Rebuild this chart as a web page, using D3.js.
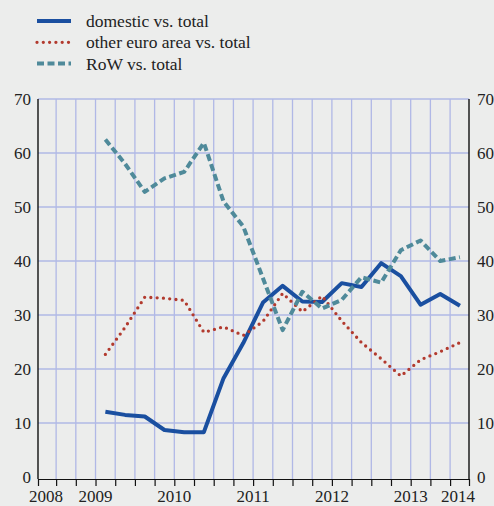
<!DOCTYPE html>
<html>
<head>
<meta charset="utf-8">
<script src="https://cdn.jsdelivr.net/npm/d3@7"></script>
<style>
  body { margin: 0; background: #ecedec; }
  svg { display: block; font-family: "Liberation Serif", "Times New Roman", serif; }
</style>
</head>
<body>
<svg width="494" height="506"></svg>
<script>
// quarters 2009Q1 .. 2013Q3
var quarters = ["2009Q1","2009Q2","2009Q3","2009Q4","2010Q1","2010Q2","2010Q3","2010Q4",
                "2011Q1","2011Q2","2011Q3","2011Q4","2012Q1","2012Q2","2012Q3","2012Q4",
                "2013Q1","2013Q2","2013Q3"];
var domestic  = [12.1, 11.5, 11.2, 8.7, 8.3, 8.3, 18.3, 24.8, 32.3, 35.4, 32.5, 32.4, 35.9, 35.2, 39.6, 37.2, 31.9, 33.9, 31.7];
var otherEuro = [22.7, 27.7, 33.3, 33.1, 32.7, 26.8, 27.8, 26.2, 28.8, 34.0, 30.6, 33.5, 28.9, 24.9, 21.9, 18.7, 21.7, 23.2, 24.9];
var row       = [62.5, 58.0, 52.8, 55.3, 56.5, 61.9, 51.0, 46.4, 36.8, 27.2, 34.3, 31.2, 32.8, 37.0, 36.0, 42.0, 43.8, 40.0, 40.7];
var years = [2008, 2009, 2010, 2011, 2012, 2013, 2014];
var yTicks = [0, 10, 20, 30, 40, 50, 60, 70];

var svg = d3.select("svg");

// quarter string -> decimal year at middle of the quarter
function qMid(q) { return +q.slice(0, 4) + (+q.slice(5) - 0.5) / 4; }

var x = d3.scaleLinear().domain([2008.27, 2013.74]).range([38, 469]);
var y = d3.scaleLinear().domain([0, 70]).range([477, 99]);

var grid = svg.append("g").attr("stroke", "#b0b8e6").attr("stroke-width", 1.3);
var bounds = d3.range(2008.5, 2013.51, 0.25);
grid.selectAll("line.v").data(bounds).enter().append("line")
    .attr("x1", d => x(d)).attr("x2", d => x(d))
    .attr("y1", y(70)).attr("y2", 479);
grid.selectAll("line.h").data(yTicks.slice(1)).enter().append("line")
    .attr("x1", x.range()[0]).attr("x2", x.range()[1])
    .attr("y1", d => y(d)).attr("y2", d => y(d));

// bottom axis with small ticks at quarter boundaries
var xAxis = d3.axisBottom(x).tickValues(bounds).tickSize(7).tickSizeOuter(7).tickFormat("");
var gx = svg.append("g").attr("transform", "translate(0,479)").call(xAxis);
gx.selectAll("path, line").attr("stroke", "#111").attr("stroke-width", 1.2);

// vertical axis lines, left and right
svg.append("g").attr("stroke", "#111").attr("stroke-width", 1.4)
    .selectAll("line").data(x.range()).enter().append("line")
    .attr("x1", d => d).attr("x2", d => d)
    .attr("y1", y(70)).attr("y2", 479);

var gl = svg.append("g").attr("transform", "translate(31,0)")
    .call(d3.axisLeft(y).tickValues(yTicks).tickSize(0).tickPadding(0));
var gr = svg.append("g").attr("transform", "translate(477,0)")
    .call(d3.axisRight(y).tickValues(yTicks).tickSize(0).tickPadding(0));
[gl, gr].forEach(function(g) {
    g.select(".domain").remove();
    g.selectAll("text").attr("font-size", 17).attr("fill", "#222")
        .attr("font-family", "Liberation Serif, serif");
});

svg.append("g").selectAll("text").data(years).enter().append("text")
    .attr("x", d => Math.max(46, Math.min(458, x(d))))
    .attr("y", 502)
    .attr("text-anchor", "middle").attr("font-size", 17).attr("fill", "#222")
    .text(d => d);

var series = [
    {name: "domestic vs. total", values: domestic, color: "#1a4fa0", width: 4, dash: null, cap: "butt"},
    {name: "other euro area vs. total", values: otherEuro, color: "#b23a2e", width: 3.3, dash: "0,6.3", cap: "round"},
    {name: "RoW vs. total", values: row, color: "#4f8a9a", width: 4, dash: "7,3.5", cap: "butt"}
];

var line = d3.line().x((d, i) => x(qMid(quarters[i]))).y(d => y(d));

svg.append("g").selectAll("path").data(series).enter().append("path")
    .attr("fill", "none")
    .attr("stroke", d => d.color).attr("stroke-width", d => d.width)
    .attr("stroke-dasharray", d => d.dash).attr("stroke-linecap", d => d.cap)
    .attr("stroke-linejoin", "round")
    .attr("d", d => line(d.values));

// legend
var leg = svg.append("g").selectAll("g").data(series).enter().append("g")
    .attr("transform", (d, i) => "translate(0," + (21 + i * 21.3) + ")");
leg.append("line").attr("x1", 37).attr("x2", 71)
    .attr("stroke", d => d.color).attr("stroke-width", d => d.width)
    .attr("stroke-dasharray", d => d.dash).attr("stroke-linecap", d => d.cap);
leg.append("text").attr("x", 86).attr("y", 6).attr("font-size", 17.5).attr("fill", "#222")
    .text(d => d.name);
</script>
</body>
</html>
